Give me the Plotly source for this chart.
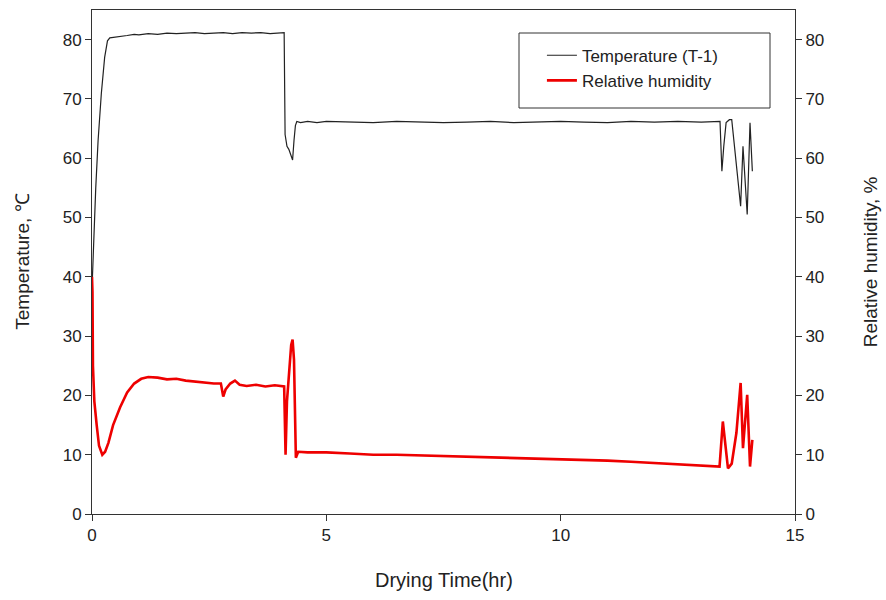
import plotly.graph_objects as go

# Temperature (T-1) series
temp_t = [0, 0.03, 0.08, 0.13, 0.2, 0.27, 0.33, 0.38, 0.5, 0.6, 0.75, 0.9, 1.0, 1.2, 1.4, 1.6, 1.8,
          2.0, 2.2, 2.4, 2.6, 2.8, 3.0, 3.2, 3.4, 3.6, 3.8, 4.0, 4.1, 4.12, 4.16, 4.2, 4.25, 4.28,
          4.31, 4.34, 4.37, 4.45, 4.6, 4.8, 5.0, 5.5, 6.0, 6.5, 7.0, 7.5, 8.0, 8.5, 9.0, 9.5, 10.0,
          10.5, 11.0, 11.5, 12.0, 12.5, 13.0, 13.4, 13.44, 13.48, 13.53, 13.6, 13.65, 13.84, 13.89,
          13.98, 14.04, 14.09]
temp_v = [38, 45, 55, 63, 71, 77, 79.8, 80.3, 80.4, 80.6, 80.7, 80.9, 80.8, 81.0, 80.9, 81.1, 81.0,
          81.1, 81.2, 81.0, 81.1, 81.2, 81.0, 81.2, 81.1, 81.2, 81.0, 81.2, 81.2, 64, 62, 61.5, 60.5, 59.7,
          63, 65.5, 66.2, 66.0, 66.2, 66.0, 66.2, 66.1, 66.0, 66.2, 66.1, 66.0, 66.1, 66.2, 66.0, 66.1, 66.2,
          66.1, 66.0, 66.2, 66.1, 66.2, 66.1, 66.2, 57.8, 62, 66.0, 66.5, 66.5, 51.9, 62,
          50.5, 66, 57.8]

# Relative humidity series
rh_t = [0, 0.01, 0.02, 0.03, 0.05, 0.1, 0.15, 0.22, 0.28, 0.35, 0.45, 0.6, 0.75, 0.9, 1.05, 1.2,
        1.4, 1.6, 1.8, 2.0, 2.2, 2.4, 2.6, 2.75, 2.8, 2.85, 2.95, 3.05, 3.15, 3.3, 3.5, 3.7, 3.9, 4.1,
        4.13, 4.16, 4.2, 4.25, 4.28, 4.31, 4.35, 4.4, 4.6, 5.0, 5.5, 6.0, 6.5, 7.0, 7.5, 8.0, 8.5, 9.0,
        9.5, 10.0, 10.5, 11.0, 11.5, 12.0, 12.5, 13.0, 13.39, 13.46, 13.57, 13.65, 13.75, 13.84, 13.89,
        13.98, 14.04, 14.09]
rh_v = [40, 37.5, 25, 21, 19, 15, 11.5, 10, 10.5, 12, 15, 18, 20.5, 22, 22.8, 23.1,
        23.0, 22.7, 22.8, 22.5, 22.3, 22.2, 22.0, 22.0, 19.8, 21.0, 22.0, 22.5, 21.8, 21.6, 21.8, 21.5, 21.7, 21.5,
        10, 19, 24, 28.5, 29.4, 26, 9.5, 10.5, 10.4, 10.4, 10.2, 10.0, 10.0, 9.9, 9.8, 9.7, 9.6, 9.5,
        9.3, 9.2, 9.1, 9.0, 8.8, 8.6, 8.3, 8.1, 8.0, 15.6, 7.7, 8.5, 13.7, 22.1, 11.1,
        20.1, 8.0, 12.5]

x_ticks = [0, 5, 10, 15]
y_ticks = [0, 10, 20, 30, 40, 50, 60, 70, 80]

FONT = "Liberation Sans, Arial, sans-serif"
AX = "#333333"

fig = go.Figure()
fig.add_trace(go.Scatter(x=temp_t, y=temp_v, mode="lines", name="Temperature (T-1)",
                         line=dict(color="#222222", width=1.2)))
fig.add_trace(go.Scatter(x=rh_t, y=rh_v, mode="lines", name="Relative humidity",
                         line=dict(color="#ee0000", width=2.6), yaxis="y2"))

fig.update_layout(
    width=886, height=600,
    margin=dict(l=92, r=91, t=10, b=86),
    paper_bgcolor="white", plot_bgcolor="white",
    font=dict(family=FONT, color="#222222", size=16),
    showlegend=True,
    legend=dict(x=0.64, y=0.945, xanchor="left", yanchor="top", bgcolor="rgba(0,0,0,0)",
                borderwidth=0, font=dict(size=17), tracegroupgap=0),
    xaxis=dict(range=[0, 15], tickvals=x_ticks, showline=True, linecolor=AX, linewidth=1,
               mirror=True, ticks="outside", ticklen=6, tickcolor=AX, showgrid=False,
               zeroline=False, tickfont=dict(size=17)),
    yaxis=dict(range=[0, 85], tickvals=y_ticks, showline=True, linecolor=AX, linewidth=1,
               ticks="outside", ticklen=6, tickcolor=AX, showgrid=False, zeroline=False,
               tickfont=dict(size=17)),
    yaxis2=dict(range=[0, 85], tickvals=y_ticks, overlaying="y", side="right", showline=True,
                linecolor=AX, linewidth=1, ticks="outside", ticklen=6, tickcolor=AX,
                showgrid=False, zeroline=False, tickfont=dict(size=17)),
    shapes=[dict(type="rect", xref="paper", yref="paper",
                 x0=(519 - 92) / 703, x1=(770 - 92) / 703,
                 y0=(514 - 108) / 504, y1=(514 - 33) / 504,
                 line=dict(color=AX, width=1), fillcolor="rgba(0,0,0,0)")],
    annotations=[
        dict(text="Drying Time(hr)", xref="paper", yref="paper", x=0.5, y=-0.13,
             xanchor="center", yanchor="middle", showarrow=False, font=dict(size=20)),
        dict(text="Temperature, ℃", xref="paper", yref="paper", x=-0.1, y=0.5,
             textangle=-90, xanchor="center", yanchor="middle", showarrow=False, font=dict(size=19)),
        dict(text="Relative humidity, %", xref="paper", yref="paper", x=1.107, y=0.5,
             textangle=-90, xanchor="center", yanchor="middle", showarrow=False, font=dict(size=19)),
    ],
)

fig.write_html("out.html")
